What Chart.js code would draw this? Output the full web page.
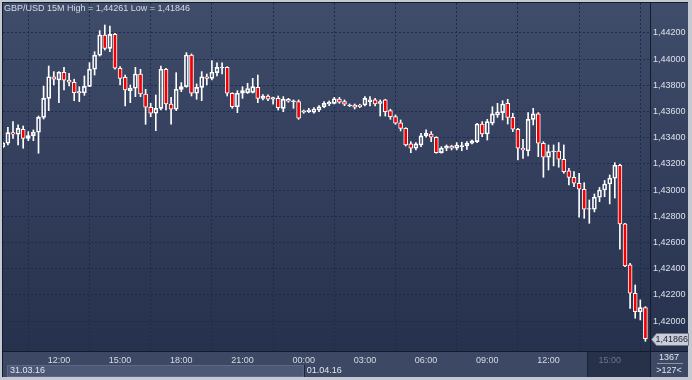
<!DOCTYPE html>
<html lang="en">
<head>
<meta charset="UTF-8">
<title>GBP/USD 15M</title>
<script src="https://cdn.jsdelivr.net/npm/chart.js@4.4.1/dist/chart.umd.min.js"></script>
<style>
    html, body { margin: 0; padding: 0; background: #c5c9d1; }
    #c { display: block; }
</style>
</head>
<body>
<canvas id="c" width="692" height="380"></canvas>
<script>
// 15 minute candles, 31.03.16 09:15 .. 01.04.16 16:45
var open = [1.43330,1.43358,1.43439,1.43427,1.43465,1.43396,1.43416,1.43442,1.43556,1.43701,
    1.43866,1.43841,1.43900,1.43841,1.43824,1.43742,1.43744,1.43793,1.43923,1.44030,
    1.44185,1.44083,1.44190,1.43931,1.43862,1.43760,1.43778,1.43887,1.43734,1.43633,
    1.43587,1.43625,1.43923,1.43658,1.43618,1.43770,1.43790,1.44032,1.43740,1.43785,
    1.43866,1.43854,1.43897,1.43933,1.43938,1.43740,1.43637,1.43740,1.43744,1.43747,
    1.43785,1.43701,1.43719,1.43694,1.43701,1.43625,1.43694,1.43676,1.43676,1.43595,
    1.43599,1.43595,1.43612,1.43637,1.43658,1.43663,1.43696,1.43676,1.43643,1.43650,
    1.43650,1.43650,1.43676,1.43689,1.43663,1.43689,1.43607,1.43561,1.43515,1.43472,
    1.43353,1.43320,1.43345,1.43414,1.43429,1.43404,1.43286,1.43320,1.43337,1.43320,
    1.43332,1.43340,1.43358,1.43370,1.43505,1.43429,1.43511,1.43574,1.43592,1.43663,
    1.43556,1.43465,1.43320,1.43301,1.43541,1.43582,1.43358,1.43251,1.43294,1.43299,
    1.43236,1.43147,1.43098,1.43053,1.43007,1.42854,1.42854,1.42946,1.43001,1.43047,
    1.43091,1.43190,1.42742,1.42429,1.42213,1.42072,1.42103];
var high = [1.43368,1.43480,1.43523,1.43498,1.43490,1.43447,1.43460,1.43566,1.43795,1.43948,
    1.43905,1.43905,1.43938,1.43892,1.43847,1.43790,1.43872,1.43973,1.44057,1.44218,
    1.44261,1.44253,1.44198,1.43943,1.43879,1.43803,1.43938,1.43923,1.43770,1.43663,
    1.43727,1.43948,1.43931,1.43709,1.43897,1.43821,1.44050,1.44040,1.43811,1.43905,
    1.43887,1.43989,1.43973,1.43973,1.43943,1.43744,1.43760,1.43790,1.43816,1.43854,
    1.43879,1.43729,1.43727,1.43711,1.43719,1.43714,1.43701,1.43689,1.43689,1.43612,
    1.43625,1.43630,1.43645,1.43676,1.43681,1.43709,1.43709,1.43689,1.43658,1.43658,
    1.43656,1.43714,1.43714,1.43701,1.43689,1.43694,1.43618,1.43574,1.43536,1.43477,
    1.43370,1.43363,1.43434,1.43460,1.43447,1.43408,1.43332,1.43345,1.43343,1.43363,
    1.43366,1.43370,1.43383,1.43511,1.43523,1.43541,1.43637,1.43663,1.43683,1.43694,
    1.43587,1.43472,1.43389,1.43592,1.43625,1.43592,1.43370,1.43345,1.43345,1.43363,
    1.43345,1.43167,1.43141,1.43129,1.43057,1.42925,1.42971,1.43021,1.43074,1.43116,
    1.43210,1.43200,1.42747,1.42442,1.42276,1.42162,1.42111];
var low = [1.43322,1.43345,1.43396,1.43345,1.43320,1.43378,1.43378,1.43282,1.43543,1.43607,
    1.43803,1.43668,1.43765,1.43795,1.43683,1.43676,1.43724,1.43790,1.43879,1.44024,
    1.44070,1.44057,1.43923,1.43803,1.43643,1.43668,1.43714,1.43714,1.43503,1.43561,
    1.43454,1.43612,1.43612,1.43503,1.43607,1.43752,1.43785,1.43719,1.43694,1.43683,
    1.43803,1.43841,1.43872,1.43887,1.43719,1.43625,1.43592,1.43701,1.43738,1.43742,
    1.43668,1.43689,1.43683,1.43656,1.43612,1.43599,1.43671,1.43625,1.43541,1.43587,
    1.43592,1.43587,1.43599,1.43630,1.43645,1.43658,1.43663,1.43645,1.43637,1.43620,
    1.43630,1.43643,1.43643,1.43643,1.43566,1.43566,1.43541,1.43503,1.43452,1.43337,
    1.43286,1.43307,1.43332,1.43404,1.43370,1.43282,1.43282,1.43301,1.43307,1.43307,
    1.43301,1.43312,1.43353,1.43363,1.43408,1.43383,1.43498,1.43556,1.43536,1.43505,
    1.43447,1.43230,1.43243,1.43261,1.43498,1.43256,1.43098,1.43154,1.43185,1.43175,
    1.43129,1.43040,1.43027,1.42793,1.42785,1.42747,1.42834,1.42912,1.42950,1.42895,
    1.42940,1.42549,1.42416,1.42098,1.42022,1.42009,1.41846];
var close = [1.43360,1.43439,1.43427,1.43472,1.43396,1.43416,1.43442,1.43556,1.43701,1.43866,
    1.43847,1.43900,1.43839,1.43824,1.43744,1.43752,1.43793,1.43923,1.44030,1.44185,
    1.44083,1.44190,1.43931,1.43854,1.43765,1.43778,1.43887,1.43734,1.43633,1.43587,
    1.43625,1.43923,1.43658,1.43618,1.43770,1.43790,1.44032,1.43740,1.43785,1.43866,
    1.43854,1.43900,1.43938,1.43938,1.43740,1.43637,1.43740,1.43760,1.43776,1.43790,
    1.43701,1.43719,1.43694,1.43706,1.43630,1.43694,1.43679,1.43683,1.43549,1.43605,
    1.43612,1.43620,1.43637,1.43663,1.43671,1.43698,1.43671,1.43656,1.43650,1.43633,
    1.43637,1.43701,1.43689,1.43658,1.43676,1.43599,1.43561,1.43511,1.43472,1.43345,
    1.43320,1.43353,1.43414,1.43434,1.43404,1.43286,1.43320,1.43337,1.43320,1.43345,
    1.43340,1.43358,1.43376,1.43505,1.43429,1.43523,1.43582,1.43599,1.43658,1.43556,
    1.43465,1.43320,1.43307,1.43541,1.43582,1.43358,1.43251,1.43294,1.43299,1.43236,
    1.43141,1.43098,1.43053,1.43007,1.42854,1.42859,1.42946,1.43001,1.43047,1.43091,
    1.43190,1.42742,1.42421,1.42213,1.42072,1.42103,1.41866];

// time axis: candle index of each labelled hour
var tickPos = [11, 23, 35, 47, 59, 71, 83, 95, 107, 119];
var tickLabels = ['12:00', '15:00', '18:00', '21:00', '00:00', '03:00', '06:00', '09:00', '12:00', '15:00'];
var dayLabels = ['31.03.16', '01.04.16'];
var dayStart = [0, 59];
var priceTicks = [1.420, 1.422, 1.424, 1.426, 1.428, 1.430, 1.432, 1.434, 1.436, 1.438, 1.440, 1.442];

var FONT = '9px "Liberation Sans", Arial, sans-serif';
function fmt(v) { return v.toFixed(5).replace('.', ','); }

var upper = [], lower = [], body = [], bodyColor = [];
for (var i = 0; i < open.length; i++) {
    upper.push({x: i, y: [Math.max(open[i], close[i]), high[i]]});
    lower.push({x: i, y: [low[i], Math.min(open[i], close[i])]});
    body.push({x: i, y: [open[i], close[i]]});
    bodyColor.push(close[i] < open[i] ? '#f20000' : 'rgba(0,0,0,0)');
}

// panels, frame and texts around the plot
var framePlugin = {
    id: 'frame',
    beforeDraw: function(chart) {
        var ctx = chart.ctx, a = chart.chartArea;
        var xs = chart.scales.x;
        ctx.save();
        ctx.fillStyle = '#c5c9d1';
        ctx.fillRect(0, 0, chart.width, chart.height);
        var g = ctx.createLinearGradient(0, a.top, 0, a.bottom);
        g.addColorStop(0, '#3f4c6a');
        g.addColorStop(1, '#26314d');
        ctx.fillStyle = g;
        ctx.fillRect(a.left, a.top, chart.width - 4 - a.left, a.bottom - a.top);
        // bottom axis rows
        ctx.fillStyle = '#3c4864';
        ctx.fillRect(a.left, a.bottom, chart.width - 4 - a.left, 26);
        var sep = xs.getPixelForValue(dayStart[1]);
        ctx.fillStyle = '#4c5876';
        ctx.fillRect(7, a.bottom + 14, sep - 7, 12);
        ctx.strokeStyle = '#5d6986';
        ctx.lineWidth = 1;
        ctx.strokeRect(7.5, a.bottom + 14.5, sep - 8, 11);
        // future session box
        var fx = Math.round(xs.getPixelForValue(114.5));
        ctx.fillStyle = '#27314a';
        ctx.fillRect(fx, a.bottom + 1, a.right - fx, 25);
        ctx.strokeStyle = '#1a2236';
        ctx.beginPath();
        ctx.moveTo(fx + 0.5, a.bottom + 1); ctx.lineTo(fx + 0.5, a.bottom + 26);
        ctx.stroke();
        ctx.restore();
    },
    afterDraw: function(chart) {
        var ctx = chart.ctx, a = chart.chartArea;
        var xs = chart.scales.x, ys = chart.scales.y;
        ctx.save();
        ctx.font = FONT;
        ctx.textBaseline = 'middle';
        // title
        ctx.fillStyle = '#d6dbe4';
        ctx.textAlign = 'left';
        ctx.fillText('GBP/USD 15M High = ' + fmt(Math.max.apply(null, high)) +
            ' Low = ' + fmt(Math.min.apply(null, low)), 4, 9);
        // dates
        var sep = xs.getPixelForValue(dayStart[1]);
        ctx.fillStyle = '#e2e6ec';
        ctx.fillText(dayLabels[0], 10, a.bottom + 20);
        ctx.fillText(dayLabels[1], sep + 3, a.bottom + 20);
        ctx.strokeStyle = '#1b2438';
        ctx.lineWidth = 1;
        ctx.beginPath();
        ctx.moveTo(Math.round(sep) + 0.5, a.bottom + 14); ctx.lineTo(Math.round(sep) + 0.5, a.bottom + 26);
        ctx.stroke();
        // frame lines
        ctx.strokeStyle = '#141b2b';
        ctx.beginPath();
        ctx.moveTo(a.left - 0.5, a.top - 1); ctx.lineTo(a.left - 0.5, chart.height - 3);
        ctx.moveTo(a.left - 1, a.top - 0.5); ctx.lineTo(chart.width - 4, a.top - 0.5);
        ctx.moveTo(a.left - 1, a.bottom + 0.5); ctx.lineTo(chart.width - 4, a.bottom + 0.5);
        ctx.moveTo(a.right + 0.5, a.top); ctx.lineTo(a.right + 0.5, chart.height - 3);
        ctx.stroke();
        // corner box
        var cx = (a.right + chart.width - 4) / 2;
        ctx.fillStyle = '#e2e6ec';
        ctx.textAlign = 'center';
        ctx.fillText('1367', cx, a.bottom + 7);
        ctx.fillText('>' + open.length + '<', cx, a.bottom + 20);
        ctx.strokeStyle = '#8a93a5';
        ctx.beginPath();
        ctx.moveTo(a.right + 7, a.bottom + 12.5); ctx.lineTo(chart.width - 9, a.bottom + 12.5);
        ctx.stroke();
        // last price marker
        var last = close[close.length - 1];
        var y = Math.round(ys.getPixelForValue(last)) + 0.5;
        var x0 = a.right + 1.5, x1 = chart.width - 3.5;
        ctx.fillStyle = '#c9ced8';
        ctx.strokeStyle = '#6f7788';
        ctx.beginPath();
        ctx.moveTo(x0, y);
        ctx.lineTo(x0 + 5, y - 6);
        ctx.lineTo(x1, y - 6);
        ctx.lineTo(x1, y + 6);
        ctx.lineTo(x0 + 5, y + 6);
        ctx.closePath();
        ctx.fill();
        ctx.stroke();
        ctx.fillStyle = '#1c2230';
        ctx.textAlign = 'left';
        ctx.fillText(fmt(last), x0 + 4, y + 0.5);
        ctx.restore();
    }
};

var wickStyle = {
    backgroundColor: '#ffffff',
    borderWidth: 0,
    barThickness: 1,
    grouped: false
};

new Chart(document.getElementById('c'), {
    type: 'bar',
    data: {
        datasets: [
            Object.assign({label: 'upper', data: upper, order: 2}, wickStyle),
            Object.assign({label: 'lower', data: lower, order: 2}, wickStyle),
            {
                label: 'body',
                data: body,
                order: 1,
                backgroundColor: bodyColor,
                borderColor: '#ffffff',
                borderWidth: 1,
                borderSkipped: false,
                barThickness: 4,
                grouped: false
            }
        ]
    },
    options: {
        responsive: false,
        animation: false,
        devicePixelRatio: 1,
        layout: { padding: { left: 3, right: 4, top: 3, bottom: 3 } },
        plugins: {
            legend: { display: false },
            tooltip: { enabled: false }
        },
        scales: {
            x: {
                type: 'linear',
                offset: false,
                min: 0.04,
                max: 126.9,
                afterBuildTicks: function(s) { s.ticks = tickPos.map(function(v) { return {value: v}; }); },
                afterFit: function(s) {
                    s.height = 26;
                    s.paddingLeft = 0; s.paddingRight = 0;
                },
                grid: { color: '#1b2b4f', drawTicks: false },
                border: { display: false, dash: [2, 2] },
                ticks: {
                    autoSkip: false,
                    maxRotation: 0,
                    padding: 4,
                    font: { family: '"Liberation Sans", Arial, sans-serif', size: 9 },
                    color: function(c) { return c.index === tickPos.length - 1 ? '#6c7689' : '#d6dbe4'; },
                    callback: function(v, idx) { return tickLabels[idx]; }
                }
            },
            y: {
                position: 'right',
                min: 1.41772,
                max: 1.44429,
                afterBuildTicks: function(s) { s.ticks = priceTicks.map(function(v) { return {value: v}; }); },
                afterFit: function(s) {
                    s.width = 38;
                    s.paddingTop = 0; s.paddingBottom = 0;
                },
                grid: { color: '#1b2b4f', drawTicks: false },
                border: { display: false, dash: [2, 2] },
                ticks: {
                    padding: 3,
                    font: { family: '"Liberation Sans", Arial, sans-serif', size: 9 },
                    color: '#dde1e8',
                    callback: function(v) { return fmt(v); }
                }
            }
        }
    },
    plugins: [framePlugin]
});
</script>
</body>
</html>
